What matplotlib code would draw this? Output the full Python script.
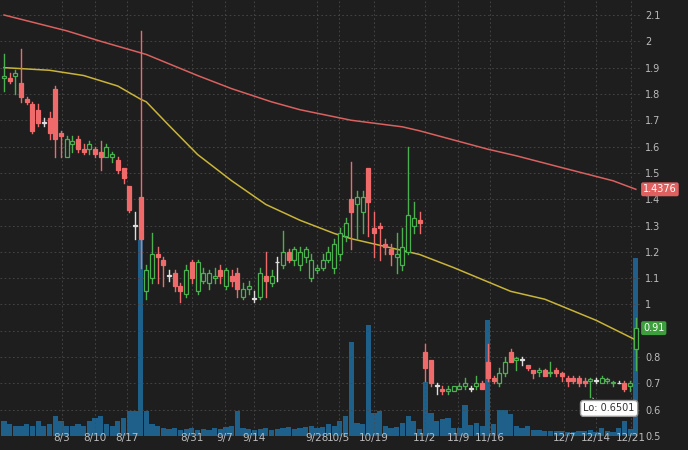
import matplotlib
matplotlib.use("Agg")
import matplotlib.pyplot as plt
from matplotlib.patches import Rectangle

O = [1.86,1.86,1.87,1.84,1.78,1.76,1.74,1.69,1.71,1.82,1.65,1.56,1.61,1.63,1.59,1.59,1.59,1.58,1.56,1.56,1.55,1.52,1.45,
     1.30,1.41,
     1.05,1.10,1.19,1.17,1.11,1.12,1.07,1.04,1.16,1.05,1.09,1.08,1.10,1.13,1.07,1.11,1.12,1.03,1.06,1.02,1.03,1.11,1.08,1.16,1.15,1.20,1.17,1.15,1.18,1.10,1.13,1.14,1.17,
     1.14,1.19,1.26,
     1.40,1.38,1.35,1.52,1.29,1.30,1.23,1.21,1.18,1.15,1.20,1.30,1.32,
     0.82,0.79,0.69,0.68,0.67,0.67,0.68,0.69,0.68,0.69,0.70,0.78,0.72,0.70,0.74,0.82,0.79,0.79,0.77,0.75,0.745,0.75,0.74,0.75,0.74,0.72,0.72,0.72,0.71,0.71,0.71,0.70,0.71,0.70,0.70,0.70,0.69,0.83]
H = [1.95,1.88,1.89,1.97,1.79,1.77,1.76,1.71,1.73,1.83,1.66,1.64,1.64,1.64,1.61,1.62,1.60,1.62,1.61,1.58,1.56,1.52,1.45,
     1.35,2.04,
     1.15,1.27,1.22,1.18,1.13,1.13,1.08,1.15,1.17,1.17,1.14,1.13,1.14,1.15,1.14,1.13,1.14,1.08,1.09,1.05,1.14,1.20,1.13,1.18,1.28,1.21,1.22,1.22,1.22,1.19,1.15,1.19,1.22,
     1.25,1.29,1.33,
     1.54,1.43,1.43,1.52,1.35,1.31,1.25,1.23,1.27,1.29,1.60,1.39,1.35,
     0.85,0.79,0.70,0.69,0.69,0.69,0.70,0.72,0.69,0.73,0.71,0.85,0.73,0.76,0.80,0.83,0.80,0.80,0.77,0.75,0.76,0.755,0.78,0.76,0.745,0.73,0.73,0.73,0.72,0.72,0.72,0.73,0.72,0.71,0.71,0.71,0.71,0.95]
L = [1.81,1.84,1.80,1.77,1.76,1.65,1.68,1.68,1.63,1.56,1.56,1.56,1.58,1.58,1.57,1.57,1.56,1.51,1.56,1.54,1.50,1.46,1.35,
     1.25,1.14,
     1.02,1.08,1.08,1.07,1.09,1.05,1.01,1.03,1.08,1.04,1.08,1.06,1.08,1.08,1.06,1.07,1.03,1.02,1.04,1.01,1.02,1.03,1.07,1.09,1.14,1.16,1.15,1.13,1.16,1.09,1.12,1.13,1.16,
     1.12,1.17,1.24,
     1.21,1.25,1.27,1.26,1.18,1.17,1.19,1.15,1.12,1.13,1.19,1.27,1.27,
     0.71,0.69,0.66,0.66,0.66,0.67,0.68,0.68,0.67,0.68,0.68,0.71,0.70,0.69,0.73,0.78,0.75,0.77,0.75,0.72,0.73,0.73,0.73,0.73,0.71,0.69,0.70,0.69,0.69,0.6501,0.70,0.70,0.70,0.69,0.70,0.67,0.67,0.75]
C = [1.87,1.85,1.88,1.79,1.77,1.66,1.69,1.69,1.65,1.63,1.64,1.63,1.62,1.59,1.58,1.61,1.57,1.56,1.60,1.57,1.51,1.48,1.36,
     1.30,1.25,
     1.13,1.19,1.18,1.15,1.11,1.07,1.05,1.13,1.10,1.16,1.12,1.12,1.11,1.11,1.13,1.09,1.06,1.06,1.07,1.02,1.12,1.09,1.11,1.16,1.20,1.17,1.21,1.20,1.21,1.17,1.14,1.17,1.20,
     1.23,1.27,1.31,
     1.35,1.41,1.41,1.39,1.27,1.29,1.22,1.19,1.19,1.22,1.34,1.33,1.31,
     0.76,0.70,0.69,0.67,0.68,0.69,0.69,0.70,0.68,0.70,0.68,0.72,0.71,0.74,0.78,0.78,0.795,0.79,0.76,0.74,0.75,0.73,0.745,0.74,0.73,0.71,0.71,0.70,0.70,0.715,0.71,0.72,0.715,0.705,0.70,0.68,0.70,0.91]
VOL = [1.5,1.2,1.0,1.0,1.2,1.0,1.5,1.0,1.2,2.0,1.5,1.0,1.0,1.2,1.0,1.5,1.8,2.0,1.2,1.0,1.5,1.8,2.5,
       2.5,19.6,
       2.5,1.2,1.0,0.8,0.7,0.8,0.6,0.7,0.8,0.6,0.7,0.6,0.8,0.7,0.9,1.0,2.5,0.8,0.7,0.6,0.7,0.8,0.6,0.7,0.8,0.9,0.7,0.8,0.9,1.0,0.8,0.9,1.2,
       1.0,1.5,2.0,
       9.4,1.3,1.2,11.1,2.3,2.5,1.0,0.8,0.9,1.3,2.0,1.5,0.7,
       5.4,2.3,1.5,1.7,1.8,0.8,0.8,3.1,1.1,1.3,1.0,11.6,1.2,2.6,2.6,2.2,1.0,0.8,1.0,0.6,0.6,0.5,0.5,0.5,0.5,0.4,0.4,0.5,0.5,0.6,0.4,0.8,0.5,0.4,0.8,1.5,0.7,17.8]

MA_FAST_IDX = [0,8,14,17,20,24,25,29,34,40,46,52,58,61,73,79,89,95,104,111]
MA_FAST = [1.90,1.89,1.87,1.85,1.83,1.78,1.77,1.68,1.57,1.47,1.38,1.32,1.27,1.25,1.19,1.14,1.05,1.02,0.94,0.865]
MA_SLOW_IDX = [0,11,17,25,34,40,47,52,61,70,73,85,90,98,107,111]
MA_SLOW = [2.10,2.04,2.00,1.95,1.87,1.82,1.77,1.74,1.70,1.675,1.66,1.59,1.565,1.52,1.47,1.4376]

TICK_POS = [10.2,16,21.6,33,38.8,44,55,58.8,65,73.9,79.8,85.3,98.4,104,110.2]
TICK_LAB = ["8/3","8/10","8/17","8/31","9/7","9/14","9/28","10/5","10/19","11/2","11/9","11/16","12/7","12/14","12/21"]
PRICE_TICKS = [0.5,0.6,0.7,0.8,0.9,1.0,1.1,1.2,1.3,1.4,1.5,1.6,1.7,1.8,1.9,2.0,2.1]

BG = "#1e1e1e"
RED = "#ef6b6b"
GREEN = "#4caf50"

fig = plt.figure(figsize=(6.88, 4.5), dpi=100, facecolor=BG)
axv = fig.add_axes([0, 0.031, 0.930, 0.969])
axv.set_facecolor(BG)
ax = fig.add_axes([0, 0.031, 0.930, 0.969], sharex=axv)
ax.patch.set_alpha(0)

n = len(C)
axv.bar(range(n), VOL, width=0.92, color="#1e6089", zorder=1)
axv.set_ylim(0, 43.6)
axv.set_yticks([])
for s in axv.spines.values():
    s.set_visible(False)

for i in range(n):
    o, h, l, c = O[i], H[i], L[i], C[i]
    if c > o:
        col, fill = GREEN, False
    elif c < o:
        col, fill = RED, True
    else:
        col, fill = "#dddddd", True
    lo, hi = min(o, c), max(o, c)
    ax.plot([i, i], [hi, h], color=col, lw=1, zorder=3)
    ax.plot([i, i], [l, lo], color=col, lw=1, zorder=3)
    bh = max(hi - lo, 0.003)
    ax.add_patch(Rectangle((i - 0.35, lo), 0.7, bh, facecolor=col if fill else BG,
                           edgecolor=col, lw=0.9, zorder=4))

ax.plot(MA_FAST_IDX, MA_FAST, color="#c9b43a", lw=1.1, zorder=2)
ax.plot(MA_SLOW_IDX, MA_SLOW, color="#d9615f", lw=1.1, zorder=2)

ax.set_xlim(-0.7, 111.7)
ax.set_ylim(0.5, 2.157)
ax.set_yticks(PRICE_TICKS)
ax.set_yticklabels([f"{t:g}" if abs(t - 0.9) > 1e-6 else "" for t in PRICE_TICKS])
ax.yaxis.tick_right()
ax.tick_params(axis="y", colors="#bbbbbb", labelsize=7, length=0, pad=4, right=False)
ax.set_xticks(TICK_POS)
ax.set_xticklabels(TICK_LAB)
ax.tick_params(axis="x", colors="#bbbbbb", labelsize=7.5, length=0, pad=-2)
plt.setp(axv.get_xticklabels(), visible=False)
axv.tick_params(axis="x", length=0)
ax.grid(True, color="#4a4a4a", ls=(0, (2, 3)), lw=0.6)
for s in ax.spines.values():
    s.set_visible(False)

ax.annotate(f"{MA_SLOW[-1]:.4f}", xy=(1.005, MA_SLOW[-1]), xycoords=("axes fraction", "data"),
            color="white", fontsize=7, va="center", ha="left", annotation_clip=False,
            bbox=dict(boxstyle="round,pad=0.2", fc="#e06060", ec="none"))
ax.annotate(f"{C[-1]:.2f}", xy=(1.005, C[-1]), xycoords=("axes fraction", "data"),
            color="white", fontsize=7, va="center", ha="left", annotation_clip=False,
            bbox=dict(boxstyle="round,pad=0.2", fc="#3e9e3e", ec="none"))
lo_i = L.index(min(L[74:]), 74)
ax.annotate(f"Lo: {L[lo_i]:.4f}", xy=(lo_i, L[lo_i]), xytext=(lo_i + 3.3, 0.605),
            color="#333333", fontsize=7, ha="center", va="center", zorder=6,
            bbox=dict(boxstyle="round,pad=0.3", fc="white", ec="#999999"),
            arrowprops=dict(arrowstyle="-", color="#aaaaaa", lw=0.8))

fig.savefig("out.png", dpi=100, facecolor=BG)
